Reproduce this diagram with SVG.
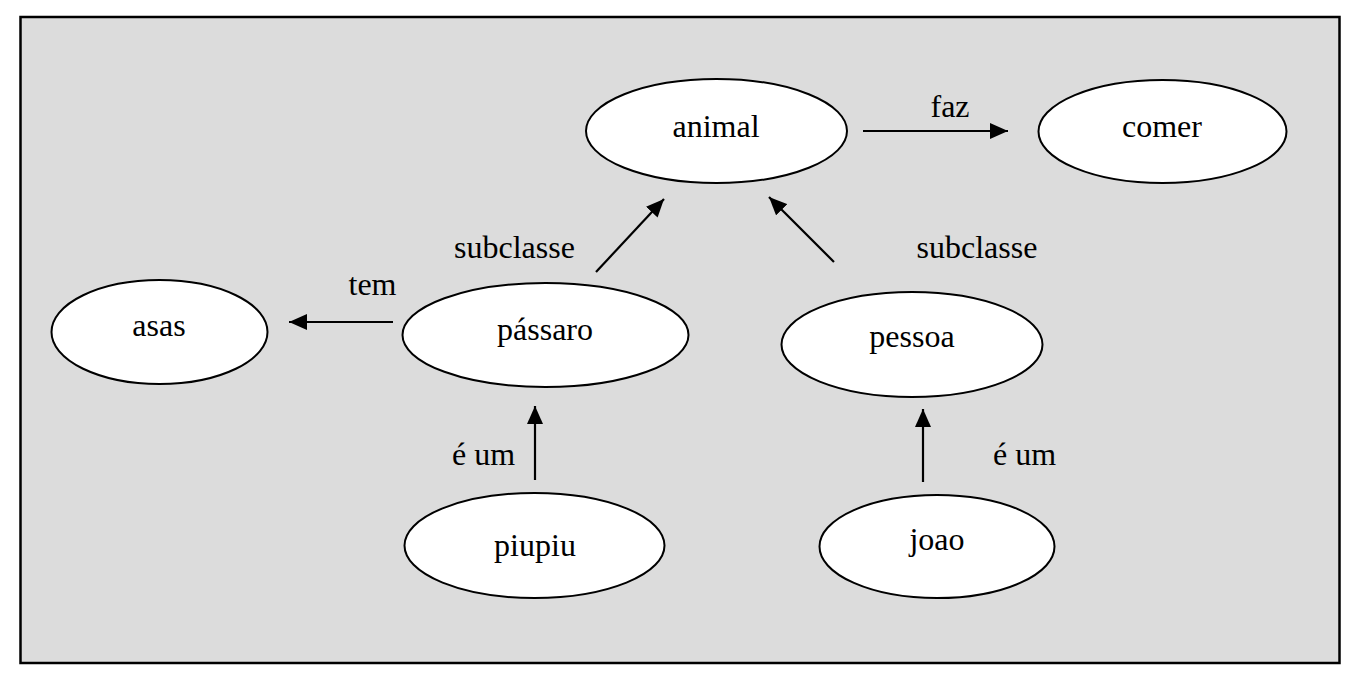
<svg xmlns="http://www.w3.org/2000/svg" width="1356" height="680" viewBox="0 0 1356 680">
<style>
.bg{fill:#dcdcdc;stroke:#000;stroke-width:2.5}
.node ellipse{fill:#fff;stroke:#000;stroke-width:2}
text{font-family:"Liberation Serif","Times New Roman",serif;font-size:32px;fill:#000;text-anchor:middle}
.edge{stroke:#000;stroke-width:2.2;fill:none;marker-end:url(#arr)}
</style>
<defs>
<marker id="arr" viewBox="0 0 18 16" refX="18" refY="8" markerWidth="18" markerHeight="16" markerUnits="userSpaceOnUse" orient="auto">
<path d="M0,0 L18,8 L0,16 z" fill="#000"/>
</marker>
</defs>
<rect width="1356" height="680" fill="#fff"/>
<rect class="bg" x="20.5" y="17" width="1319" height="646"/>
<g id="connectors">
<line class="edge" x1="863" y1="131" x2="1008" y2="131"/>
<line class="edge" x1="596" y1="272" x2="664" y2="199"/>
<line class="edge" x1="834" y1="262" x2="769" y2="197"/>
<line class="edge" x1="393" y1="322" x2="289" y2="322"/>
<line class="edge" x1="535" y1="480" x2="535" y2="406"/>
<line class="edge" x1="923" y1="482" x2="923" y2="409"/>
<text x="950" y="117">faz</text>
<text x="514.5" y="258">subclasse</text>
<text x="977" y="258">subclasse</text>
<text x="372.5" y="295">tem</text>
<text x="483.5" y="465">é um</text>
<text x="1024.5" y="465">é um</text>
</g>
<g id="animal" class="node"><ellipse cx="716.5" cy="131" rx="130.5" ry="52"/><text x="716" y="137">animal</text></g>
<g id="comer" class="node"><ellipse cx="1162.5" cy="131.5" rx="124" ry="51.5"/><text x="1162" y="137">comer</text></g>
<g id="asas" class="node"><ellipse cx="159.5" cy="332" rx="108" ry="52"/><text x="159" y="336">asas</text></g>
<g id="passaro" class="node"><ellipse cx="545.5" cy="335" rx="143" ry="52"/><text x="545" y="340">pássaro</text></g>
<g id="pessoa" class="node"><ellipse cx="912" cy="344.5" rx="130.5" ry="52.5"/><text x="912" y="347">pessoa</text></g>
<g id="piupiu" class="node"><ellipse cx="534.5" cy="545.5" rx="130" ry="52.5"/><text x="535" y="556">piupiu</text></g>
<g id="joao" class="node"><ellipse cx="937" cy="546.5" rx="117.5" ry="51.5"/><text x="937" y="550">joao</text></g>
</svg>
